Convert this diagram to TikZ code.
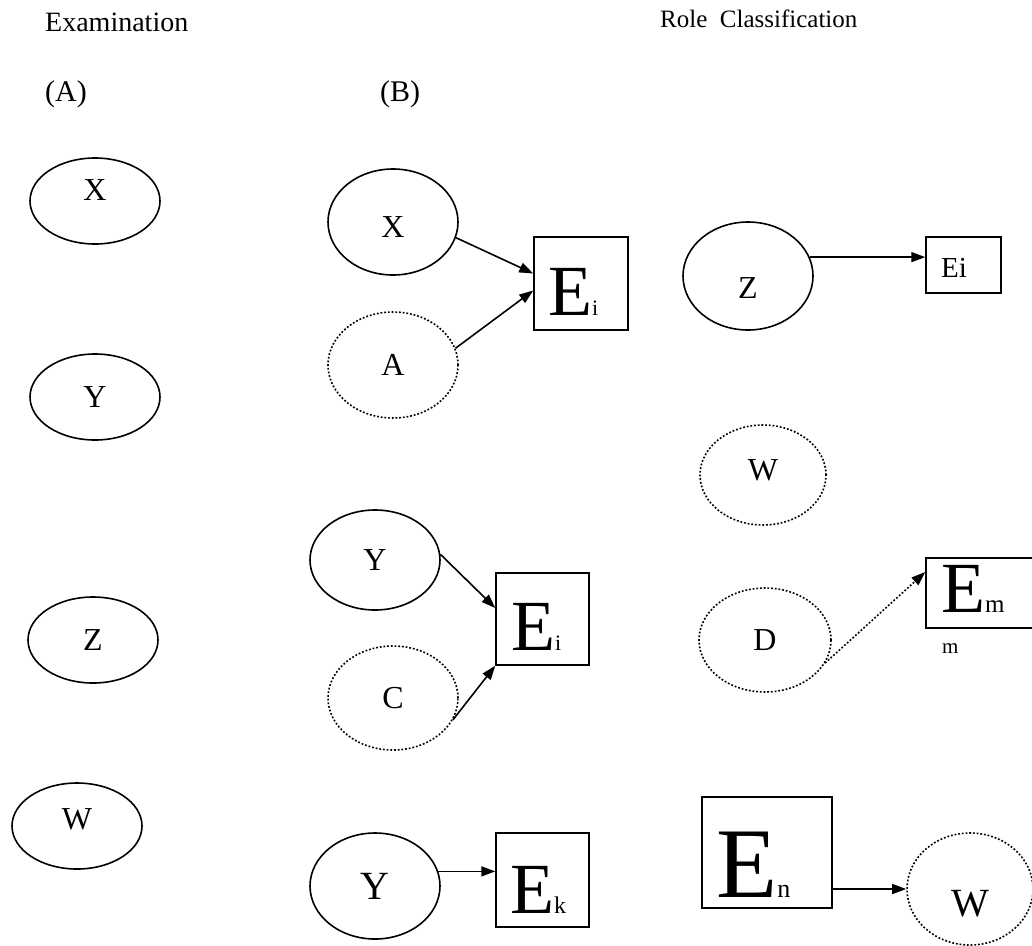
\documentclass[tikz,border=0pt]{standalone}
\usepackage{fontspec}
\setmainfont{Liberation Serif}
\usetikzlibrary{shapes.geometric,arrows.meta}
\newcommand{\fs}[1]{\fontsize{#1}{#1}\selectfont}
\tikzset{
  oval/.style={ellipse, draw, line width=1.6pt, inner sep=0pt,
    minimum width=130pt, minimum height=86pt, font=\fs{32}},
  dotoval/.style={oval, dash pattern=on 1.8pt off 1.9pt},
  % move an oval's letter up or down inside it
  lift/.style={text height=21pt, text depth=#1},
  sink/.style={text height=#1, text depth=0pt},
  ebox/.style={draw, line width=1.5pt, inner sep=0pt, rectangle},
  txt/.style={inner sep=0pt, anchor=base west},
  link/.style={line width=1.6pt, -{Triangle[length=14pt,width=10pt]}},
  dotlink/.style={link, dash pattern=on 1.8pt off 1.9pt},
}
\begin{document}
\begin{tikzpicture}[x=1pt,y=-1pt]
\useasboundingbox (0,0) rectangle (1032,945);

% headings
\node[txt, font=\fs{28}] (hExam) at (45,31) {Examination};
\node[txt, font=\fs{25}] (hRole) at (660,27) {Role\ \ Classification};
\node[txt, font=\fs{30}] (hA) at (45,101) {(A)};
\node[txt, font=\fs{30}] (hB) at (380,101) {(B)};

% column A
\node[oval, lift=22pt] (aX) at (95,201) {X};
\node[oval] (aY) at (95,397) {Y};
\node[oval] (aZ) at (93,640) {Z};
\node[oval, lift=14pt] (aW) at (77,826) {W};

% column B, first group
\node[oval, minimum height=106pt, sink=31pt] (bX) at (393,222) {X};
\node[dotoval, minimum height=106pt] (bA) at (393,365) {A};
\node[ebox, minimum width=94pt, minimum height=93pt] (bE1) at (581,283.5) {};
\node[txt] (bE1t) at (548,315) {\fs{72}E\fs{22}i};
\draw[link] (bX.-14) -- ([yshift=10pt]bE1.west);
\draw[link] (bA.15) -- ([yshift=-7pt]bE1.west);

% column B, second group
\node[oval, minimum height=100pt] (bY) at (375,560) {Y};
\node[dotoval, minimum height=104pt] (bC) at (393,698) {C};
\node[ebox, minimum width=93pt, minimum height=92pt] (bE2) at (542.5,619) {};
\node[txt] (bE2t) at (511,650) {\fs{72}E\fs{22}i};
\draw[link] (bY.5) -- ([yshift=11pt]bE2.west);
\draw[link] (bC.-20) -- (bE2.south west);

% column B, third group
\node[oval, minimum height=106pt, font=\fs{40}] (bY3) at (375,886) {Y};
\node[ebox, minimum width=93pt, minimum height=94pt] (bEk) at (542.5,880) {};
\node[txt] (bEkt) at (510,913) {\fs{72}E\fs{24}k};
\draw[link] (bY3.13) -- (bY3.13 -| bEk.west);

% role classification column
\node[oval, minimum height=108pt, sink=45pt] (cZ) at (748,276) {Z};
\node[ebox, minimum width=75pt, minimum height=56pt] (cE) at (963.5,265) {};
\node[txt, font=\fs{29}] (cEt) at (941,277) {Ei};
\draw[link] (cZ.17) -- (cZ.17 -| cE.west);

\node[dotoval, minimum width=126pt, minimum height=100pt, lift=10pt] (cW) at (763,475) {W};

\node[dotoval, minimum width=132pt, minimum height=104pt] (cD) at (765,640) {D};
\node[ebox, minimum width=120pt, minimum height=70pt] (cEm) at (986,593) {};
\node[txt] (cEmt) at (941,612) {\fs{72}E\fs{25}m};
\node[txt, font=\fs{21}] (cM) at (942,653) {m};
\draw[dotlink] (cD.-21) -- ([yshift=21pt]cEm.west);

\node[ebox, minimum width=130pt, minimum height=111pt] (cEn) at (767,852.5) {};
\node[txt] (cEnt) at (716,897) {\fs{100}E\fs{26}n};
\node[dotoval, minimum width=126pt, minimum height=112pt, font=\fs{40}, sink=55pt] (cW2) at (970,889) {W};
\draw[link] (cW2.west -| cEn.east) -- (cW2.west);
\end{tikzpicture}
\end{document}
